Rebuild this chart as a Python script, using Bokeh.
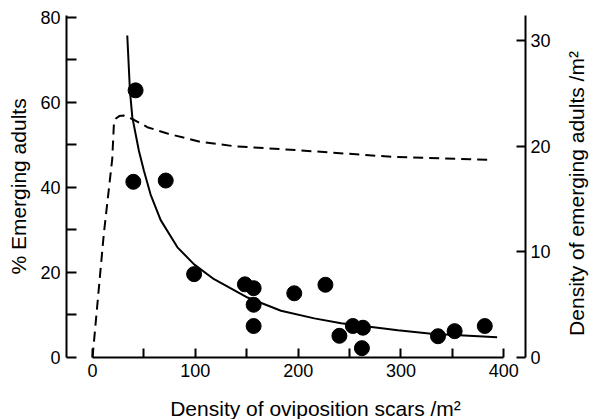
import math
from bokeh.plotting import figure
from bokeh.models import Range1d, LinearAxis, FixedTicker, Label
from bokeh.layouts import row, column
from bokeh.embed import file_html
from bokeh.resources import INLINE

# Observed points: density of oviposition scars vs % emerging adults
scar_density = [41.9, 39.7, 71.2, 98.8, 148.2, 156.7, 156.7, 156.7, 196.2,
                226.5, 240.1, 253.2, 263.0, 262.0, 336.0, 352.2, 381.5]
pct_emerging = [62.8, 41.3, 41.6, 19.6, 17.2, 16.3, 12.4, 7.4, 15.1,
                17.1, 5.1, 7.4, 7.0, 2.2, 5.0, 6.2, 7.4]

# Fitted curve for % emerging adults (left axis)
fit_pct_x = [33.8, 36.4, 38.7, 45.1, 50.0, 56.5, 66.3, 82.6, 98.8, 118.2,
             150.8, 183.3, 215.7, 241.8, 297.0, 329.5, 393.5]
fit_pct_y = [75.7, 62.7, 56.5, 48.6, 43.9, 38.3, 32.3, 25.9, 21.9, 18.4,
             14.1, 11.0, 9.2, 8.05, 6.4, 5.6, 4.75]

# Fitted curve for density of emerging adults (right axis), dashed
fit_dens_x = [0, 11.0, 19.2, 20.8, 22.4, 26.0, 30.5, 40.3, 53.3, 72.8,
              105.3, 137.7, 202.8, 290.5, 388.0]
fit_dens_y = [0, 11.7, 18.8, 22.1, 22.6, 22.85, 22.9, 22.5, 21.8, 21.2,
              20.4, 20.0, 19.6, 19.0, 18.7]

x_ticks = [0, 50, 100, 150, 200, 250, 300, 350, 400]
x_tick_labels = ["0", "", "100", "", "200", "", "300", "", "400"]
left_ticks = [0, 10, 20, 30, 40, 50, 60, 70, 80]
left_tick_labels = ["0", "", "20", "", "40", "", "60", "", "80"]
right_ticks = [0, 10, 20, 30]

x_title = "Density of oviposition scars /m²"
left_title = "% Emerging adults"
right_title = "Density of emerging adults /m²"

FONT = "Liberation Sans"
TITLE_SIZE = "21px"

# ---------------- main chart ----------------
p = figure(width=565, height=395, output_backend="svg", toolbar_location=None,
           x_range=Range1d(-25.3, 421.1), y_range=Range1d(0, 80.4),
           min_border_left=66, min_border_right=40, min_border_top=15,
           min_border_bottom=38)
p.extra_y_ranges = {"right": Range1d(0, 32.37)}
p.outline_line_color = None
p.xgrid.visible = False
p.ygrid.visible = False
p.background_fill_color = "white"
p.border_fill_color = "white"


def style(ax, tick_len):
    ax.axis_line_width = 2
    ax.axis_line_color = "black"
    ax.major_tick_line_width = 2
    ax.major_tick_line_color = "black"
    ax.major_tick_in = tick_len
    ax.major_tick_out = 0
    ax.minor_tick_line_color = None
    ax.major_label_text_font = FONT
    ax.major_label_text_font_size = "18px"
    ax.major_label_text_color = "black"
    ax.axis_label_text_font = FONT
    ax.axis_label_text_font_size = TITLE_SIZE
    ax.axis_label_text_font_style = "normal"
    ax.axis_label_text_color = "black"


xa = p.xaxis[0]
style(xa, 9)
xa.ticker = FixedTicker(ticks=x_ticks)
xa.major_label_overrides = {t: l for t, l in zip(x_ticks, x_tick_labels)}
xa.bounds = (0, 400)
xa.major_label_standoff = 6

ya = p.yaxis[0]
style(ya, 10)
ya.ticker = FixedTicker(ticks=left_ticks)
ya.major_label_overrides = {t: l for t, l in zip(left_ticks, left_tick_labels)}
ya.axis_label = left_title
ya.major_label_standoff = 6
ya.axis_label_standoff = 7

ra = LinearAxis(y_range_name="right")
style(ra, 9)
ra.ticker = FixedTicker(ticks=right_ticks)
ra.major_label_standoff = 5
p.add_layout(ra, "right")

p.line(fit_dens_x, fit_dens_y, y_range_name="right", line_color="black",
       line_width=2, line_dash="10 6")
p.line(fit_pct_x, fit_pct_y, line_color="black", line_width=2)
p.scatter(scar_density, pct_emerging, size=15, fill_color="black",
          line_color="black")


def text_strip(w, h):
    f = figure(width=w, height=h, output_backend="svg", toolbar_location=None,
               x_range=Range1d(0, w), y_range=Range1d(0, h),
               x_axis_location=None, y_axis_location=None, min_border=0)
    f.outline_line_color = None
    f.xgrid.visible = False
    f.ygrid.visible = False
    f.background_fill_color = "white"
    f.border_fill_color = "white"
    return f


# ---------------- x-axis title strip ----------------
pb = text_strip(565, 24)
pb.add_layout(Label(x=306.5, y=11.3, text=x_title, text_font=FONT,
                    text_font_size=TITLE_SIZE, text_color="black",
                    text_align="center", text_baseline="middle"))

# ---------------- right-axis title strip ----------------
pr = text_strip(25, 419)
pr.add_layout(Label(x=11, y=226, text=right_title, angle=math.pi / 2,
                    text_font=FONT, text_font_size=TITLE_SIZE,
                    text_color="black", text_align="center",
                    text_baseline="middle"))

layout = row(column(p, pb), pr)

open("out.html", "w").write(file_html(layout, INLINE))
